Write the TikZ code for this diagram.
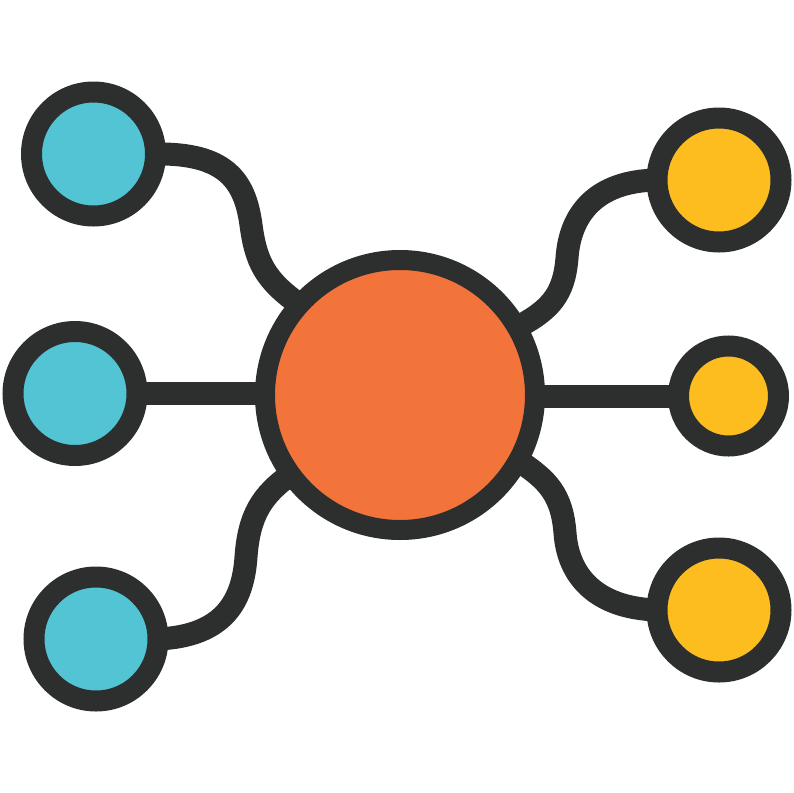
\documentclass[tikz,border=0pt]{standalone}
\usepackage{xcolor}
\usetikzlibrary{backgrounds}
\definecolor{ink}{HTML}{2D2F2F}
\definecolor{hubfill}{HTML}{F3743A}
\definecolor{leftfill}{HTML}{52C4D4}
\definecolor{rightfill}{HTML}{FDBD1F}
\tikzset{
  hub/.style={circle, draw=ink, line width=20pt, fill=hubfill,
    inner sep=0pt, outer sep=0pt, minimum size=270pt},
  leaf/.style={circle, draw=ink, line width=21pt,
    inner sep=0pt, outer sep=0pt, minimum size=124pt},
  link/.style={draw=ink, line width=23pt}
}
\begin{document}
\begin{tikzpicture}[x=1pt,y=-1pt]
\useasboundingbox (0,0) rectangle (793,793);
% centre
\node[hub] (c) at (400,395) {};
% left hand
\node[leaf, fill=leftfill] (tl) at (93.5,154) {};
\node[leaf, fill=leftfill] (ml) at (75,393.5) {};
\node[leaf, fill=leftfill] (bl) at (96,639) {};
% right hand
\node[leaf, fill=rightfill] (tr) at (719,180) {};
\node[leaf, fill=rightfill, minimum size=100pt] (mr) at (728.5,396) {};
\node[leaf, fill=rightfill] (br) at (719,610) {};
% links
\scope[on background layer]
\draw[link] (tl.east) .. controls (225,153) and (245,180) .. (251,225)
      .. controls (256,262) and (265,280) .. (c.138);
\draw[link] (ml.east) -- (ml.east -| c.center);
\draw[link] (bl.east) .. controls (225,636) and (243,600) .. (246,557)
      .. controls (249,515) and (262,495) .. (c.216);
\draw[link] (tr.west) .. controls (595,181) and (570,215) .. (567,258)
      .. controls (564,295) and (550,310) .. (c.30);
\draw[link] (mr.west) -- (mr.west -| c.center);
\draw[link] (br.west) .. controls (595,608) and (568,575) .. (565,533)
      .. controls (562,495) and (548,480) .. (c.331);
\endscope
\end{tikzpicture}
\end{document}
